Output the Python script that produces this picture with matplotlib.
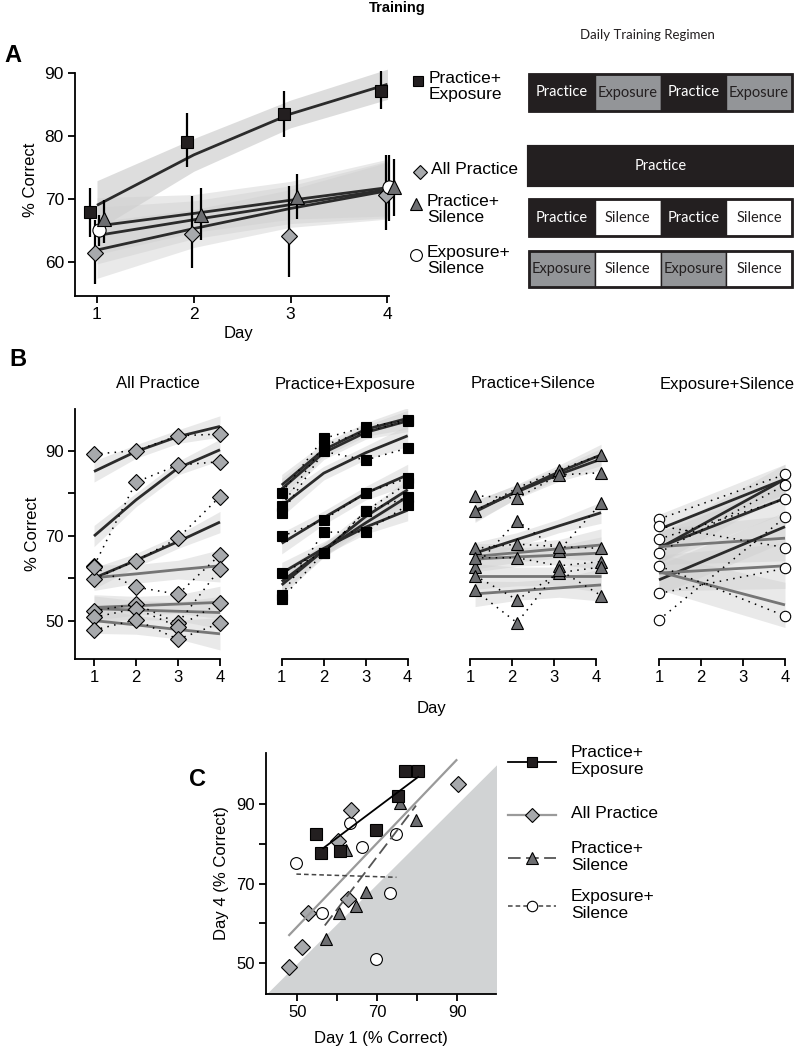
import numpy as np
import matplotlib.pyplot as plt
from matplotlib.patches import Rectangle

plt.rcParams['font.family'] = ['Liberation Sans', 'DejaVu Sans']

W, H = 794, 1050

# ---------------- panel A: group means, 95% CI, model fits ----------------
days = [1, 2, 3, 4]
pe_mean = [68.0, 79.0, 83.5, 87.2]
pe_lo = [64.0, 75.0, 79.8, 84.2]
pe_hi = [71.7, 83.6, 87.2, 90.3]
ap_mean = [61.4, 64.5, 64.2, 70.7]
ap_lo = [56.5, 59.0, 57.6, 65.0]
ap_hi = [66.7, 70.4, 72.0, 77.0]
ps_mean = [66.8, 67.4, 70.3, 71.9]
ps_lo = [63.0, 63.5, 66.8, 67.3]
ps_hi = [69.8, 71.8, 74.0, 76.4]
es_days = [1, 4]
es_mean = [65.0, 71.9]
es_lo = [62.5, 66.5]
es_hi = [67.5, 77.0]

pe_fit = [69.0, 77.0, 83.5, 88.2]
ap_fit = [61.9, 65.3, 68.5, 71.3]
ps_fit = [65.7, 67.7, 69.8, 71.8]
es_fit = [64.2, 66.7, 69.1, 71.5]
pe_band = [3.9, 2.6, 2.2, 2.4]
grp_band = [4.5, 3.0, 3.0, 4.5]

# ---------------- panel B: individual subjects ----------------
ap_subj = [[89.2, 90.0, 93.5, 93.9], [62.9, 82.6, 86.6, 87.4], [59.8, 64.1, 69.4, 79.2],
           [62.6, 57.9, 56.2, 65.5], [52.3, 53.9, 49.4, 62.2], [50.8, 52.8, 48.6, 54.2],
           [47.8, 50.2, 45.6, 49.4]]
ap_sfit = [[85.1, 89.8, 93.3, 95.7], [69.9, 78.4, 85.9, 90.2], [60.0, 64.2, 68.6, 73.2],
           [60.1, 61.0, 62.0, 62.9], [53.1, 53.5, 53.9, 54.3], [52.8, 52.5, 52.2, 51.9],
           [50.0, 49.0, 47.9, 46.9]]
ap_learner = [True, True, True, False, False, False, False]

pe_subj = [[80.1, 92.9, 95.6, 97.2], [77.0, 91.3, 94.5, 97.0], [75.3, 89.8, 87.8, 90.6],
           [69.8, 73.7, 80.1, 83.5], [61.2, 66.0, 75.8, 82.3], [56.0, 70.8, 70.9, 77.2],
           [55.2, 66.0, 75.8, 79.0]]
pe_sfit = [[81.9, 90.2, 95.0, 97.6], [81.0, 89.5, 94.3, 97.0], [77.0, 84.7, 89.5, 93.5],
           [68.2, 74.2, 80.0, 84.3], [59.2, 66.6, 74.5, 80.8], [61.2, 67.0, 72.0, 76.0],
           [58.4, 66.5, 73.0, 79.2]]
pe_learner = [True] * 7

ps_subj = [[75.8, 81.2, 85.5, 89.0], [79.4, 78.8, 84.3, 84.8], [62.7, 73.5, 66.5, 77.6],
           [67.0, 68.0, 67.4, 67.0], [64.8, 64.8, 62.9, 63.9], [60.6, 54.9, 61.3, 62.6],
           [57.1, 49.5, 62.0, 55.9]]
ps_sfit = [[75.6, 80.5, 85.0, 89.0], [75.9, 80.3, 84.4, 88.0], [65.9, 69.1, 72.3, 75.4],
           [65.1, 66.0, 66.9, 67.8], [64.5, 65.0, 65.4, 65.9], [60.4, 60.4, 60.4, 60.4],
           [56.3, 57.0, 57.7, 58.4]]
ps_learner = [True, True, True, False, False, False, False]

es_subj = [[73.9, 84.4], [66.0, 81.9], [69.2, 78.6], [72.3, 67.2], [50.2, 74.3],
           [56.4, 62.3], [62.9, 51.1]]
es_sfit = [[71.5, 83.3], [67.0, 83.3], [67.3, 78.8], [67.4, 69.4], [59.6, 72.1],
           [61.2, 62.9], [61.5, 53.7]]
es_learner = [True, True, True, False, True, False, False]

# ---------------- panel C: day 1 vs day 4 ----------------
c_pe_d1 = [76.9, 80.25, 75.25, 54.8, 55.9, 60.7, 69.7]
c_pe_d4 = [98.4, 98.4, 91.9, 82.5, 77.7, 78.3, 83.5]
c_ap_d1 = [90.1, 63.4, 60.25, 62.6, 52.6, 51.3, 48.0]
c_ap_d4 = [95.0, 88.4, 80.6, 66.1, 62.6, 54.2, 49.1]
c_ps_d1 = [75.8, 79.7, 62.2, 67.1, 64.8, 60.4, 57.1]
c_ps_d4 = [90.3, 86.1, 78.5, 67.8, 64.5, 62.6, 56.0]
c_es_d1 = [49.8, 63.2, 66.3, 74.7, 73.2, 56.3, 69.7]
c_es_d4 = [75.2, 85.2, 79.3, 82.5, 67.6, 62.6, 51.0]
reg_pe = ([56.5, 80.25], [78.9, 96.8])
reg_ap = ([48.0, 89.8], [57.1, 101.0])
reg_ps = ([56.9, 79.7], [59.5, 89.6])
reg_es = ([49.8, 74.8], [72.4, 71.6])

regimen = [["Practice", "Exposure", "Practice", "Exposure"],
           ["Practice"],
           ["Practice", "Silence", "Practice", "Silence"],
           ["Exposure", "Silence", "Exposure", "Silence"]]

BLACK = '#231f20'
EXPO = '#939598'
DIAM = '#a7a9ac'
TRI = '#6d6e71'
DARKFIT = '#2b2b2b'
GRAYFIT = '#767676'
BAND = '#cfcfcf'

fig = plt.figure(figsize=(W / 100, H / 100), dpi=100)


def px_axes(l, t, r, b):
    return fig.add_axes([l / W, 1 - b / H, (r - l) / W, (b - t) / H])


def style_axes(ax, size=10.5):
    for s in ['top', 'right']:
        ax.spines[s].set_visible(False)
    for s in ['left', 'bottom']:
        ax.spines[s].set_linewidth(1.3)
    ax.tick_params(direction='out', length=5, width=1.3, labelsize=size, pad=3)


# ---------------- panel A ----------------
axA = px_axes(75, 63.5, 402, 296)
axA.set_xlim(0.773, 4.15)
axA.set_ylim(54.6, 91.5)
style_axes(axA, 12.5)
axA.spines['left'].set_bounds(54.6, 90)
axA.spines['bottom'].set_bounds(0.773, 4.02)
axA.set_xticks(days)
axA.set_yticks([60, 70, 80, 90])
axA.set_xlabel('Day', fontsize=12, labelpad=3)
axA.set_ylabel('% Correct', fontsize=12, labelpad=5)

d = np.array(days, dtype=float)
for fit in [ap_fit, ps_fit, es_fit]:
    f = np.array(fit)
    axA.fill_between(d, f - np.array(grp_band), f + np.array(grp_band),
                     color=BAND, alpha=0.45, lw=0)
f = np.array(pe_fit)
axA.fill_between(d, f - np.array(pe_band), f + np.array(pe_band), color=BAND, alpha=0.7, lw=0)
for fit in [pe_fit, ap_fit, ps_fit, es_fit]:
    axA.plot(d, fit, color=DARKFIT, lw=2.0, solid_capstyle='butt')

groupsA = [
    (d - 0.07, pe_mean, pe_lo, pe_hi, 's', BLACK, 8.5),
    (d - 0.02, ap_mean, ap_lo, ap_hi, 'D', DIAM, 8.5),
    (np.array(es_days) + 0.02, es_mean, es_lo, es_hi, 'o', 'white', 9.5),
    (d + 0.07, ps_mean, ps_lo, ps_hi, '^', TRI, 10.5),
]
for x, m, lo, hi, mk, fc, ms in groupsA:
    m = np.array(m)
    axA.errorbar(x, m, yerr=[m - np.array(lo), np.array(hi) - m], fmt=mk, ms=ms,
                 mfc=fc, mec='black', mew=0.8, ecolor='black', elinewidth=1.6,
                 capsize=0, clip_on=False, zorder=5)

# ---------------- panel B ----------------
day1_px = [94, 281.7, 470, 659]
b_top, b_bot = 409, 659.3
ppd = 42.0
panelsB = [
    ('All Practice', ap_subj, ap_sfit, ap_learner, 'D', DIAM, 8.5, 0.0, days),
    ('Practice+Exposure', pe_subj, pe_sfit, pe_learner, 's', 'black', 6.5, 0.0, days),
    ('Practice+Silence', ps_subj, ps_sfit, ps_learner, '^', TRI, 8.5, 0.12, days),
    ('Exposure+Silence', es_subj, es_sfit, es_learner, 'o', 'white', 7.5, 0.0, es_days),
]
title_x = [158, 345, 533, 727]
band_learn = [2.5, 1.6, 1.6, 2.5]
band_flat = [3.0, 2.2, 2.2, 3.8]

for k, (title, subj, sfit, learner, mk, fc, ms, dx, xd) in enumerate(panelsB):
    x0 = day1_px[k]
    ax = px_axes(x0 - 0.45 * ppd, b_top, x0 + 3.3 * ppd, b_bot)
    ax.set_xlim(0.55, 4.3)
    ax.set_ylim(40.9, 99.8)
    style_axes(ax, 12)
    ax.set_xticks(days)
    if k == 0:
        ax.spines['bottom'].set_bounds(0.55, 4)
        ax.set_yticks([50, 60, 70, 80, 90])
        ax.set_yticklabels(['50', '', '70', '', '90'])
        ax.set_ylabel('% Correct', fontsize=12, labelpad=4)
    else:
        ax.spines['bottom'].set_bounds(1, 4)
        ax.spines['left'].set_visible(False)
        ax.set_yticks([])
    xs = np.array(xd, dtype=float) + dx
    for f, lrn in zip(sfit, learner):
        f = np.array(f)
        hw = np.array(band_learn if lrn else band_flat)
        if len(xs) == 2:
            hw = hw[[0, 3]] * 1.4
        ax.fill_between(xs, f - hw, f + hw, color=BAND, alpha=0.45, lw=0, zorder=1)
    for f, lrn in zip(sfit, learner):
        ax.plot(xs, f, color=DARKFIT if lrn else GRAYFIT, lw=2.0, zorder=2,
                solid_capstyle='butt')
    for s in subj:
        ax.plot(xs, s, color='black', lw=1.1, ls=(0, (1, 3.5)), zorder=3)
        ax.plot(xs, s, ls='none', marker=mk, ms=ms, mfc=fc, mec='black', mew=0.8,
                zorder=4, clip_on=False)

# ---------------- panel C ----------------
axC = px_axes(266, 753, 496, 994)
axC.set_xlim(42.2, 99.7)
axC.set_ylim(42.3, 102.8)
style_axes(axC, 12)
axC.set_xticks([50, 60, 70, 80, 90])
axC.set_xticklabels(['50', '', '70', '', '90'])
axC.set_yticks([50, 60, 70, 80, 90])
axC.set_yticklabels(['50', '', '70', '', '90'])
axC.set_xlabel('Day 1 (% Correct)', fontsize=12, labelpad=8)
axC.set_ylabel('Day 4 (% Correct)', fontsize=12, labelpad=5)
axC.fill_between([42.3, 100], [42.3, 42.3], [42.3, 100], color='#d1d3d4', lw=0, zorder=0)

c_groups = [
    (c_pe_d1, c_pe_d4, reg_pe, 's', BLACK, 8, 'black', '-', 1.3),
    (c_ap_d1, c_ap_d4, reg_ap, 'D', DIAM, 8, '#9a9a9a', '-', 1.6),
    (c_ps_d1, c_ps_d4, reg_ps, '^', TRI, 9, '#555555', (0, (7, 3)), 1.3),
    (c_es_d1, c_es_d4, reg_es, 'o', 'white', 8.5, '#444444', (0, (3, 2)), 1.1),
]
for x, y, reg, mk, fc, ms, lc, ls, lw in c_groups[::-1]:
    axC.plot(x, y, ls='none', marker=mk, ms=ms, mfc=fc, mec='black', mew=0.8, zorder=3)
for x, y, reg, mk, fc, ms, lc, ls, lw in c_groups:
    axC.plot(reg[0], reg[1], color=lc, ls=ls, lw=lw, zorder=4)

# ---------------- overlay: titles, legends, regimen ----------------
ov = fig.add_axes([0, 0, 1, 1])
ov.set_xlim(0, W)
ov.set_ylim(H, 0)
ov.axis('off')

ov.text(397, 8, 'Training', ha='center', va='center', fontsize=10.5, fontweight='bold')
for lab, (x, y) in zip('ABC', [(13, 56), (18, 359), (197, 780)]):
    ov.text(x, y, lab, ha='center', va='center', fontsize=17, fontweight='bold')
for t, x in zip([p[0] for p in panelsB], title_x):
    ov.text(x, 384, t, ha='center', va='center', fontsize=12)
ov.text(432, 708, 'Day', ha='center', va='center', fontsize=12)

# panel A legend
legA = [('s', BLACK, 7, 418, 81, 'Practice+\nExposure'),
        ('D', DIAM, 7.5, 420, 172, 'All Practice'),
        ('^', TRI, 8.5, 416, 204, 'Practice+\nSilence'),
        ('o', 'white', 8.5, 416, 255, 'Exposure+\nSilence')]
for mk, fc, ms, x, y, t in legA:
    ov.plot([x], [y], marker=mk, ms=ms, mfc=fc, mec='black', mew=0.8, ls='none')
    ov.text(x + 11, y - 10, t, ha='left', va='top', fontsize=12.5, linespacing=1.1)

# regimen boxes
ov.text(647, 35, 'Daily Training Regimen', ha='center', va='center',
        fontsize=9.5, family='Lato', color=BLACK)
row_top = [74, 147, 199, 251]
row_h = [37, 38, 37, 36]
bx0, bx1 = 529, 792
fill = {'Practice': BLACK, 'Exposure': EXPO, 'Silence': 'white'}
txt = {'Practice': 'white', 'Exposure': BLACK, 'Silence': BLACK}
for r, (cells, top, h) in enumerate(zip(regimen, row_top, row_h)):
    cw = (bx1 - bx0) / len(cells)
    for i, c in enumerate(cells):
        ov.add_patch(Rectangle((bx0 + i * cw, top), cw, h, facecolor=fill[c],
                               edgecolor=BLACK, lw=1.0))
        ov.text(bx0 + (i + 0.5) * cw, top + h / 2, c, ha='center', va='center',
                fontsize=10.5, family='Lato', color=txt[c])
    ov.add_patch(Rectangle((bx0, top), bx1 - bx0, h, facecolor='none',
                           edgecolor=BLACK, lw=3.0 if r == 1 else 2.0))

# panel C legend
legC = [('s', BLACK, 6.5, 'black', '-', 1.3, 762, 'Practice+\nExposure'),
        ('D', DIAM, 7, '#9a9a9a', '-', 1.6, 815, 'All Practice'),
        ('^', TRI, 8, '#555555', (0, (7, 3)), 1.3, 858, 'Practice+\nSilence'),
        ('o', 'white', 7.5, '#444444', (0, (3, 2)), 1.1, 906, 'Exposure+\nSilence')]
for mk, fc, ms, lc, ls, lw, y, t in legC:
    ov.plot([508, 556], [y, y], color=lc, ls=ls, lw=lw)
    ov.plot([532], [y], marker=mk, ms=ms, mfc=fc, mec='black', mew=0.8, ls='none')
    ov.text(571, y - 1, t, ha='left', va='center', fontsize=12.5, linespacing=1.1)

fig.savefig('out.png', dpi=100)
